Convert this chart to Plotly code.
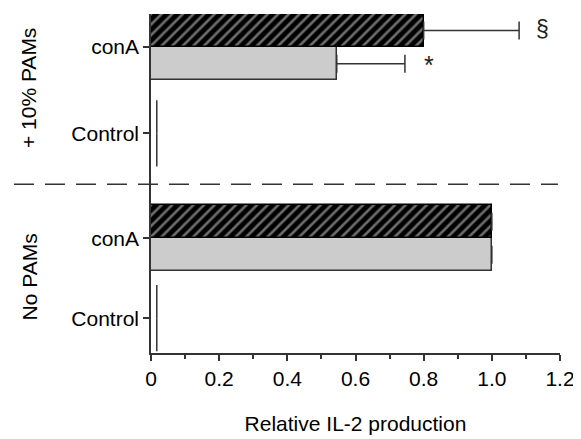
import plotly.graph_objects as go

# ---- data ----
groups = ["No PAMs", "+ 10% PAMs"]
categories = ["Control", "conA"]
gray_vals = {"No PAMs": [0.017, 1.0], "+ 10% PAMs": [0.017, 0.545]}
hatch_vals = {"No PAMs": [0.017, 1.0], "+ 10% PAMs": [0.017, 0.80]}
gray_err = {"No PAMs": [0, 0], "+ 10% PAMs": [0, 0.20]}
hatch_err = {"No PAMs": [0, 0], "+ 10% PAMs": [0, 0.28]}
x_ticks = [0, 0.2, 0.4, 0.6, 0.8, 1.0, 1.2]
x_ticktext = ["0", "0.2", "0.4", "0.6", "0.8", "1.0", "1.2"]
marks = {"gray": "*", "hatch": "§"}

# ---- layout positions (y axis units) ----
pos = {("No PAMs", "Control"): 0.41, ("No PAMs", "conA"): 1.35,
       ("+ 10% PAMs", "Control"): 2.585, ("+ 10% PAMs", "conA"): 3.6}
h = 0.39
sep_y = 1.985
FONT = "Liberation Sans, Arial, Helvetica, sans-serif"
AX = "#333333"
FS = 21

fig = go.Figure()

def build(vals, errs, sign):
    ys, xs, es = [], [], []
    ctrl_x, ctrl_y = [], []
    for g in groups:
        for i, c in enumerate(categories):
            yc = pos[(g, c)] + sign * h / 2
            if c == "Control":
                ctrl_x += [vals[g][i], vals[g][i], None]
                ctrl_y += [yc - h / 2, yc + h / 2, None]
            else:
                ys.append(yc); xs.append(vals[g][i]); es.append(errs[g][i])
    return ys, xs, es, ctrl_x, ctrl_y

# gray bars (lower)
ys, xs, es, cx, cy = build(gray_vals, gray_err, -1)
fig.add_trace(go.Bar(
    y=ys, x=xs, orientation="h", width=h,
    marker=dict(color="#cccccc", line=dict(color=AX, width=1.5)),
    error_x=dict(type="data", array=es, arrayminus=[0] * len(es), symmetric=False,
                 color=AX, thickness=1.5, width=9),
    showlegend=False))
fig.add_trace(go.Scatter(x=cx, y=cy, mode="lines", line=dict(color=AX, width=1.5),
                         showlegend=False, hoverinfo="skip"))

# hatched bars (upper)
ys2, xs2, es2, cx2, cy2 = build(hatch_vals, hatch_err, 1)
fig.add_trace(go.Bar(
    y=ys2, x=xs2, orientation="h", width=h,
    marker=dict(color="black", line=dict(color="black", width=1.5),
                pattern=dict(shape="/", bgcolor="black", fgcolor="#d8d8d8",
                             size=7.5, solidity=0.35, fillmode="overlay")),
    error_x=dict(type="data", array=es2, arrayminus=[0] * len(es2), symmetric=False,
                 color=AX, thickness=1.5, width=9),
    showlegend=False))
fig.add_trace(go.Scatter(x=cx2, y=cy2, mode="lines", line=dict(color=AX, width=1.5),
                         showlegend=False, hoverinfo="skip"))

# significance marks
g = "+ 10% PAMs"
fig.add_annotation(x=gray_vals[g][1] + gray_err[g][1] + 0.07, y=pos[(g, "conA")] - h / 2 - 0.02,
                   text=marks["gray"], showarrow=False, font=dict(size=25, family=FONT, color="#222"))
fig.add_annotation(x=hatch_vals[g][1] + hatch_err[g][1] + 0.068, y=pos[(g, "conA")] + h / 2 + 0.02,
                   text=marks["hatch"], showarrow=False, font=dict(size=23, family=FONT, color="#222"))

# group labels
for gname, yc in [("+ 10% PAMs", 3.12), ("No PAMs", 0.89)]:
    fig.add_annotation(x=-0.298, xref="paper", xanchor="center", yanchor="middle", y=yc,
                       text=gname, textangle=-90, showarrow=False,
                       font=dict(size=FS, family=FONT, color="black"))

# dashed separator
fig.add_shape(type="line", xref="paper", x0=-0.335, x1=0.995, y0=sep_y, y1=sep_y,
              line=dict(color=AX, width=1.5, dash="20px,11px"))

tickvals_y = [pos[(g, c)] for g in groups for c in categories]
ticktext_y = [c for g in groups for c in categories]

fig.update_layout(
    width=573, height=431,
    margin=dict(l=143, r=17, t=6, b=86),
    plot_bgcolor="white", paper_bgcolor="white",
    barmode="overlay", bargap=0,
    font=dict(family=FONT, size=FS, color="black"),
    xaxis=dict(range=[0, 1.2], tickvals=x_ticks, ticktext=x_ticktext,
               showline=True, linecolor=AX, linewidth=1.5, ticks="outside",
               ticklen=6, tickwidth=1.5, tickcolor=AX, showgrid=False, zeroline=False,
               minor=dict(dtick=0.1, ticks="outside", ticklen=4, tickwidth=1.5, tickcolor=AX),
               title=dict(text="Relative IL-2 production", standoff=27,
                          font=dict(size=FS, family=FONT))),
    yaxis=dict(range=[0, 3.99], tickvals=tickvals_y, ticktext=ticktext_y,
               showline=True, linecolor=AX, linewidth=1.5, ticks="outside",
               ticklen=6, tickwidth=1.5, tickcolor=AX, showgrid=False, zeroline=False),
)

fig.write_html("out.html")
